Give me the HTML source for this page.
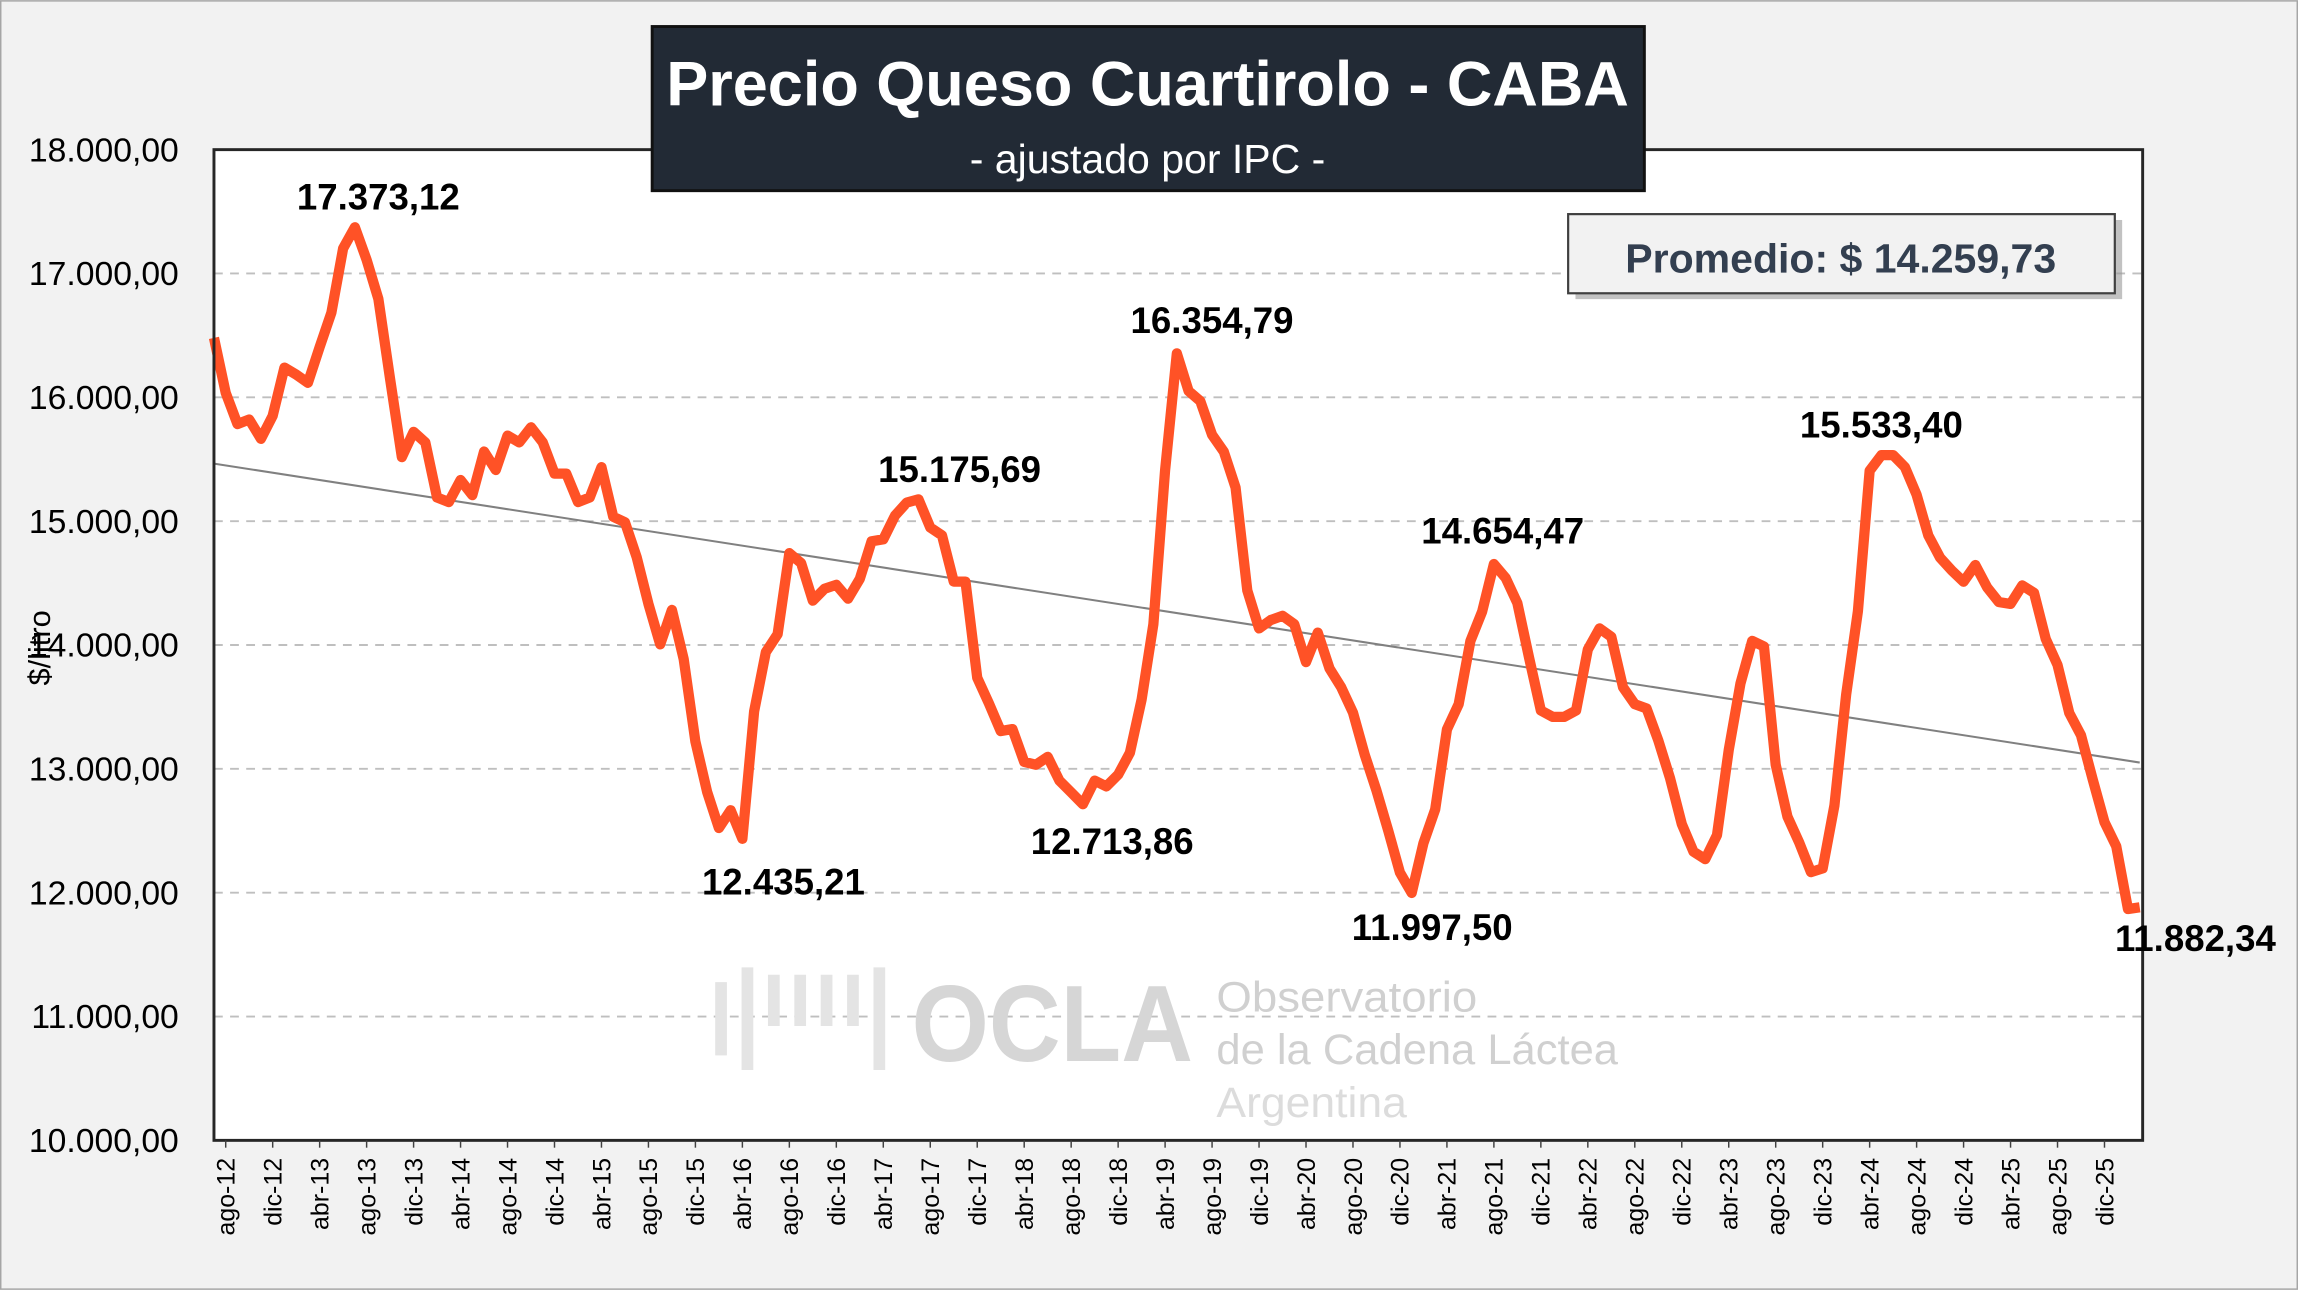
<!DOCTYPE html>
<html><head><meta charset="utf-8"><style>
html,body{margin:0;padding:0;background:#f2f2f2;}
svg{display:block;font-family:"Liberation Sans",sans-serif;}
</style></head><body>
<svg id="chart" width="2298" height="1290" viewBox="0 0 1568 880" xmlns="http://www.w3.org/2000/svg">
<rect x="0.5" y="0.5" width="1567" height="879" fill="#f2f2f2" stroke="#a6a6a6"/>
<rect x="146" y="102" width="1316" height="676" fill="#ffffff"/>
<g id="grid"></g>
<g id="watermark">
<text x="622" y="724" font-size="74" font-weight="bold" fill="#d6d6d6" textLength="192" lengthAdjust="spacingAndGlyphs">OCLA</text>
<text x="830" y="690" font-size="29" fill="#d0d0d0" textLength="178" lengthAdjust="spacingAndGlyphs">Observatorio</text>
<text x="830" y="726" font-size="29" fill="#d0d0d0" textLength="274" lengthAdjust="spacingAndGlyphs">de la Cadena Láctea</text>
<text x="830" y="762" font-size="29" fill="#dcdcdc" textLength="130" lengthAdjust="spacingAndGlyphs">Argentina</text>
<path d="M492 720 V670 M510 730 V660 M528 700 V665 M546 700 V665 M564 700 V665 M582 700 V665 M600 730 V660" stroke="#e4e4e4" stroke-width="8" fill="none"/>
</g>
<g id="trend"></g>
<g id="series"></g>
<rect x="146" y="102" width="1316" height="676" fill="none" stroke="#262626" stroke-width="2"/>
<g id="yaxis"></g>
<g id="xaxis"></g>
<g id="labels"></g>
<text transform="translate(34,442) rotate(-90)" text-anchor="middle" font-size="21" fill="#000">$/litro</text>
<g>
<rect x="445" y="18" width="677" height="112" fill="#222a35" stroke="#111" stroke-width="2"/>
<text x="783" y="72" text-anchor="middle" font-size="43" font-weight="bold" fill="#fff">Precio Queso Cuartirolo - CABA</text>
<text x="783" y="118" text-anchor="middle" font-size="28" fill="#fff">- ajustado por IPC -</text>
</g>
<g>
<rect x="1075" y="150" width="373" height="54" fill="#9a9a9a" opacity="0.6"/>
<rect x="1070" y="146" width="373" height="54" fill="#f2f2f2" stroke="#404040" stroke-width="1.5"/>
<text x="1256" y="186" text-anchor="middle" font-size="28" font-weight="bold" fill="#333f50">Promedio: $ 14.259,73</text>
</g>
</svg>
<script>
const months = ["ene","feb","mar","abr","may","jun","jul","ago","sep","oct","nov","dic"];
const values = [16480,16036,15784,15821,15665,15851,16240,16184,16117,16406,16684,17203,17373,17110,16795,16147,15517,15721,15636,15191,15154,15332,15210,15562,15413,15691,15636,15758,15636,15384,15384,15154,15191,15436,15036,14991,14709,14332,14005,14283,13887,13220,12813,12522,12666,12435,13464,13943,14087,14742,14662,14358,14454,14486,14374,14534,14837,14853,15045,15150,15176,14949,14885,14512,14512,13736,13528,13305,13321,13056,13033,13097,12905,12810,12714,12905,12858,12953,13129,13560,14167,15412,16355,16051,15969,15697,15561,15272,14440,14134,14202,14236,14168,13862,14100,13811,13658,13454,13114,12825,12502,12162,11998,12400,12672,13318,13522,14032,14270,14654,14542,14338,13896,13471,13420,13420,13471,13964,14134,14066,13658,13522,13488,13230,12925,12555,12331,12271,12465,13152,13690,14033,13988,13033,12614,12405,12166,12196,12704,13600,14272,15407,15533,15533,15437,15213,14884,14705,14601,14511,14646,14466,14347,14332,14481,14421,14048,13839,13451,13271,12913,12570,12375,11868,11882];
const yTicks = [10000,11000,12000,13000,14000,15000,16000,17000,18000];
const labelIdx = [12,45,60,74,82,102,109,142,164];
const labelText = ["17.373,12","12.435,21","15.175,69","12.713,86","16.354,79","11.997,50","14.654,47","15.533,40","11.882,34"];
const labelDy = [-12,38,-12,34,-14,32,-14,-12,30];
const labelDx = [16,28,28,20,24,14,6,0,38];

const NS="http://www.w3.org/2000/svg";
const X0=146,X1=1462,Y0=778,Y1=102,YMIN=10000,YMAX=18000;
const xs=i=>X0+i*(X1-2-X0)/(values.length-1);
const ys=v=>Y0-(v-YMIN)/(YMAX-YMIN)*(Y0-Y1);
function mk(tag,attrs,parent){const e=document.createElementNS(NS,tag);for(const k in attrs)e.setAttribute(k,attrs[k]);parent.appendChild(e);return e;}
const grid=document.getElementById('grid'),yax=document.getElementById('yaxis');
yTicks.forEach(t=>{
  if(t>YMIN && t<YMAX){const g=mk('line',{x1:X0,x2:X1,y1:ys(t),y2:ys(t),stroke:'#bfbfbf','stroke-width':1.3,'stroke-dasharray':'6,5'},grid);
  
  }
  const tx=mk('text',{x:122,y:ys(t)+8,'text-anchor':'end','font-size':23,fill:'#000'},yax);
  tx.textContent=t.toLocaleString('de-DE')+",00";
  
  
});
const xax=document.getElementById('xaxis');
for(let i=1;i<values.length;i+=4){
  const m=(6+i)%12, yr=12+Math.floor((6+i)/12);
  const t=mk('text',{transform:`translate(${xs(i)+6},790) rotate(-90)`,'text-anchor':'end','font-size':17,fill:'#000'},xax);
  t.textContent=months[m]+"-"+String(yr).padStart(2,'0');
  
  
  const tk=mk('line',{x1:xs(i),x2:xs(i),y1:Y0,y2:Y0+5,stroke:'#404040'},xax);
  
  
}
const n=values.length;let sx=0,sy=0,sxy=0,sxx=0;
values.forEach((v,i)=>{sx+=i;sy+=v;sxy+=i*v;sxx+=i*i;});
const b=(n*sxy-sx*sy)/(n*sxx-sx*sx),a=(sy-b*sx)/n;
const tl=mk('line',{x1:xs(0),y1:ys(a),x2:xs(n-1),y2:ys(a+b*(n-1)),stroke:'#808080','stroke-width':1.4},document.getElementById('trend'));


const p=mk('polyline',{points:values.map((v,i)=>xs(i)+","+ys(v)).join(" "),fill:'none',stroke:'#ff5226','stroke-width':7,'stroke-linejoin':'round'},document.getElementById('series'));


const lg=document.getElementById('labels');
labelIdx.forEach((idx,k)=>{
  const t=mk('text',{x:xs(idx)+labelDx[k],y:ys(values[idx])+labelDy[k],'text-anchor':'middle','font-size':25,'font-weight':'bold',fill:'#000'},lg);
  t.textContent=labelText[k];
  
  
});
</script>
</body></html>
